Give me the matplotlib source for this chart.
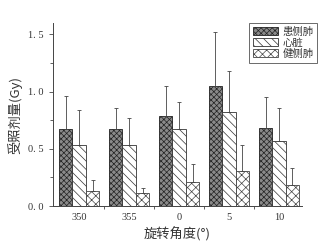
import matplotlib
matplotlib.use("Agg")
import matplotlib.pyplot as plt
import numpy as np
from matplotlib.ticker import MultipleLocator, FixedLocator

plt.rcParams['hatch.linewidth'] = 0.5

angles = ["350", "355", "0", "5", "10"]
series_names = ["患侧肺", "心脏", "健侧肺"]
affected_lung = [0.67, 0.67, 0.79, 1.05, 0.68]
affected_lung_err = [0.29, 0.19, 0.26, 0.47, 0.27]
heart = [0.53, 0.53, 0.67, 0.82, 0.57]
heart_err = [0.31, 0.24, 0.24, 0.36, 0.29]
healthy_lung = [0.13, 0.11, 0.21, 0.31, 0.18]
healthy_lung_err = [0.10, 0.05, 0.16, 0.22, 0.15]

cjk = ['Noto Sans CJK SC', 'DejaVu Sans']
serif = ['Liberation Serif', 'DejaVu Serif']
tc = '#333333'

fig = plt.figure(figsize=(3.28, 2.48), dpi=100)
ax = fig.add_axes([53/328, 42/248, (302-53)/328, (206-23)/248])

x = np.arange(len(angles))
w = 0.27
styles = [
    dict(facecolor='#8a8a8a', hatch='xxxxxx', edgecolor='#222222'),
    dict(facecolor='white', hatch='\\\\\\\\', edgecolor='#333333'),
    dict(facecolor='white', hatch='xxxx', edgecolor='#444444'),
]
data = [(affected_lung, affected_lung_err), (heart, heart_err), (healthy_lung, healthy_lung_err)]
for i, ((vals, errs), st, name) in enumerate(zip(data, styles, series_names)):
    pos = x + (i - 1) * w
    ax.bar(pos, vals, width=w, linewidth=0.6, label=name, **st)
    ax.errorbar(pos, vals, yerr=[np.zeros(len(vals)), errs], fmt='none',
                ecolor='#444444', elinewidth=0.6, capsize=1.5, capthick=0.6)

ax.set_xlim(-0.52, 4.46)
ax.set_ylim(0, 1.6)
ax.spines['top'].set_visible(False)
ax.spines['right'].set_visible(False)
for s in ['left', 'bottom']:
    ax.spines[s].set_linewidth(0.7)
    ax.spines[s].set_color('#444444')

ax.set_xticks(x)
ax.set_xticklabels(angles)
ax.xaxis.set_minor_locator(FixedLocator(x[:-1] + 0.5))
ax.set_yticks([0, 0.5, 1.0, 1.5])
ax.set_yticklabels(["0. 0", "0. 5", "1. 0", "1. 5"])
ax.yaxis.set_minor_locator(MultipleLocator(0.25))
ax.tick_params(axis='both', which='major', direction='out', length=3, width=0.6,
               colors='#444444', labelsize=7.5, labelcolor=tc)
ax.tick_params(axis='x', which='major', length=0, pad=5)
ax.tick_params(axis='both', which='minor', direction='out', length=2, width=0.6, colors='#444444')
for lab in ax.get_xticklabels() + ax.get_yticklabels():
    lab.set_family(serif)

ax.set_ylabel("受照剂量(Gy)", family=cjk, fontsize=9.5, color=tc, labelpad=4)
ax.set_xlabel("旋转角度(°)", family=cjk, fontsize=9.5, color=tc, labelpad=4)

leg = ax.legend(loc='upper right', prop={'family': cjk, 'size': 7.5}, frameon=True, fancybox=False,
                handlelength=2.4, handleheight=0.8, handletextpad=0.4,
                labelspacing=0.1, borderpad=0.35, borderaxespad=0)
leg.set_bbox_to_anchor((317/328, 1 - 23/248), transform=fig.transFigure)
leg.get_frame().set_edgecolor('#444444')
leg.get_frame().set_linewidth(0.7)
for t in leg.get_texts():
    t.set_color(tc)

fig.savefig("out.png", dpi=100)
